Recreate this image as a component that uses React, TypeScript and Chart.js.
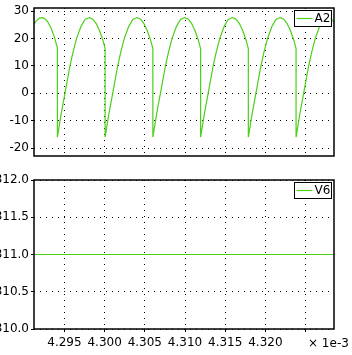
import React, { useEffect, useRef } from "react";
import { Chart, registerables } from "chart.js";

Chart.register(...registerables);

// time axis values are in units of 1e-3 s
const A2_TIME = [
  4.29121, 4.2915, 4.2919, 4.29218, 4.2925, 4.2929, 4.2933, 4.2937, 4.29412,
  4.29412, 4.29462, 4.29506, 4.29568, 4.29606, 4.2965, 4.29706, 4.29756, 4.29808, 4.2985, 4.29893, 4.29937, 4.29975, 4.30006,
  4.30006, 4.30056, 4.301, 4.30162, 4.302, 4.30244, 4.303, 4.3035, 4.30402, 4.30444, 4.30487, 4.30531, 4.30569, 4.306,
  4.306, 4.3065, 4.30694, 4.30756, 4.30794, 4.30838, 4.30894, 4.30944, 4.30996, 4.31038, 4.31081, 4.31125, 4.31163, 4.31194,
  4.31194, 4.31244, 4.31288, 4.3135, 4.31388, 4.31432, 4.31488, 4.31538, 4.3159, 4.31632, 4.31675, 4.31719, 4.31757, 4.31788,
  4.31788, 4.31838, 4.31882, 4.31944, 4.31982, 4.32026, 4.32082, 4.32132, 4.32184, 4.32226, 4.32269, 4.32313, 4.32351, 4.32382,
  4.32382, 4.32432, 4.32476, 4.32538, 4.32576, 4.3262, 4.32676, 4.32726, 4.32778, 4.3282, 4.32854,
];
const A2_VALUES = [
  25.3, 26.5, 27.5, 27.7, 27.4, 26.2, 24.1, 21.0, 16.6,
  -16, -7, 0, 10, 15, 20, 24.5, 27, 27.7, 27.2, 25.6, 22.9, 19.7, 16.4,
  -16, -7, 0, 10, 15, 20, 24.5, 27, 27.7, 27.2, 25.6, 22.9, 19.7, 16.4,
  -16, -7, 0, 10, 15, 20, 24.5, 27, 27.7, 27.2, 25.6, 22.9, 19.7, 16.4,
  -16, -7, 0, 10, 15, 20, 24.5, 27, 27.7, 27.2, 25.6, 22.9, 19.7, 16.4,
  -16, -7, 0, 10, 15, 20, 24.5, 27, 27.7, 27.2, 25.6, 22.9, 19.7, 16.4,
  -16, -7, 0, 10, 15, 20, 24.5, 27, 27.7, 27.2, 26.0,
];
const V6_TIME = [4.29121, 4.32854];
const V6_VALUES = [311.0, 311.0];

const X_MIN = 4.29121;
const X_MAX = 4.32854;
const X_TICKS = [4.295, 4.3, 4.305, 4.31, 4.315, 4.32, 4.325];
const X_TICK_LABELS = ["4.295", "4.300", "4.305", "4.310", "4.315", "4.320", ""];
const X_MULTIPLIER_TEXT = "× 1e-3";

const A2_MIN = -22.9;
const A2_MAX = 31.2;
const A2_TICKS = [-20, -10, 0, 10, 20, 30];
const A2_TICK_LABELS = ["-20", "-10", "0", "10", "20", "30"];

const V6_MIN = 310.0;
const V6_MAX = 312.0;
const V6_TICKS = [310.0, 310.5, 311.0, 311.5, 312.0];
const V6_TICK_LABELS = ["310.0", "310.5", "311.0", "311.5", "312.0"];

const FONT = "DejaVu Sans";
const LINE_COLOR = "#4ccf18";

const framePlugin = {
  id: "frameLegend",
  afterDraw(chart: any) {
    const { ctx, chartArea } = chart;
    const a = chartArea;
    ctx.save();
    ctx.strokeStyle = "#000";
    ctx.lineWidth = 1.5;
    ctx.strokeRect(a.left, a.top, a.right - a.left, a.bottom - a.top);
    // legend box
    const ds = chart.data.datasets[0];
    const bw = 37;
    const bh = 16;
    const bx = a.right - 3.5 - bw;
    const by = a.top + 2;
    ctx.fillStyle = "#fff";
    ctx.fillRect(bx, by, bw, bh);
    ctx.lineWidth = 1;
    ctx.strokeRect(Math.round(bx) + 0.5, Math.round(by) + 0.5, bw, bh);
    ctx.strokeStyle = ds.borderColor;
    ctx.lineWidth = 1.2;
    ctx.beginPath();
    ctx.moveTo(bx + 3, by + bh / 2 + 0.5);
    ctx.lineTo(bx + 19, by + bh / 2 + 0.5);
    ctx.stroke();
    ctx.fillStyle = "#000";
    ctx.font = `12px "${FONT}"`;
    ctx.textBaseline = "middle";
    ctx.textAlign = "left";
    ctx.fillText(ds.label, bx + 21, by + bh / 2 + 1);
    const mult = chart.options.plugins.frameLegend?.multiplier;
    if (mult) {
      ctx.font = `12px "${FONT}"`;
      ctx.textAlign = "left";
      ctx.textBaseline = "middle";
      ctx.fillText(mult, 308, a.bottom + 14.5);
    }
    ctx.restore();
  },
};

function makeChart(
  canvas: HTMLCanvasElement,
  label: string,
  times: number[],
  values: number[],
  yMin: number,
  yMax: number,
  yTicks: number[],
  yLabels: string[],
  showX: boolean,
  padding: any,
) {
  return new Chart(canvas, {
    type: "line",
    data: {
      datasets: [
        {
          label,
          data: times.map((t, i) => ({ x: t, y: values[i] })),
          borderColor: LINE_COLOR,
          borderWidth: 1.2,
          pointRadius: 0,
          tension: 0,
          fill: false,
        },
      ],
    },
    options: {
      animation: false,
      responsive: false,
      devicePixelRatio: 1,
      layout: { padding },
      plugins: {
        legend: { display: false },
        tooltip: { enabled: false },
        frameLegend: { multiplier: showX ? X_MULTIPLIER_TEXT : null },
      } as any,
      scales: {
        x: {
          type: "linear",
          min: X_MIN,
          max: X_MAX,
          afterBuildTicks: (s: any) => {
            s.ticks = X_TICKS.map((v) => ({ value: v }));
          },
          afterFit: (s: any) => {
            s.height = showX ? 26 : 0;
            s.paddingLeft = 0;
            s.paddingRight = 0;
          },
          border: { display: false, dash: [1, 5] },
          grid: {
            color: "#000",
            lineWidth: 1,
            drawTicks: showX,
            tickLength: 3,
            tickColor: "#000",
            tickBorderDash: [1, 0],
          },
          ticks: {
            display: showX,
            color: "#000",
            padding: 4,
            maxRotation: 0,
            autoSkip: false,
            font: { family: FONT, size: 12 },
            callback: (v: any) => {
              const i = X_TICKS.findIndex((t) => Math.abs(t - v) < 1e-9);
              return i >= 0 ? X_TICK_LABELS[i] : "";
            },
          },
        },
        y: {
          type: "linear",
          min: yMin,
          max: yMax,
          afterBuildTicks: (s: any) => {
            s.ticks = yTicks.map((v) => ({ value: v }));
          },
          afterFit: (s: any) => {
            s.width = 34;
            s.paddingTop = 0;
            s.paddingBottom = 0;
          },
          border: { display: false, dash: [1, 5] },
          grid: {
            color: "#000",
            lineWidth: 1,
            drawTicks: true,
            tickLength: 3,
            tickColor: "#000",
            tickBorderDash: [1, 0],
          },
          ticks: {
            color: "#000",
            padding: 2,
            autoSkip: false,
            font: { family: FONT, size: 12 },
            callback: (v: any) => {
              const i = yTicks.findIndex((t) => Math.abs(t - v) < 1e-9);
              return i >= 0 ? yLabels[i] : "";
            },
          },
        },
      },
    },
    plugins: [framePlugin],
  } as any);
}

export default function App() {
  const topRef = useRef<HTMLCanvasElement>(null);
  const botRef = useRef<HTMLCanvasElement>(null);

  useEffect(() => {
    const c1 = makeChart(
      topRef.current!, "A2", A2_TIME, A2_VALUES, A2_MIN, A2_MAX, A2_TICKS, A2_TICK_LABELS, false,
      { top: 8, right: 18, bottom: 14, left: 0 },
    );
    const c2 = makeChart(
      botRef.current!, "V6", V6_TIME, V6_VALUES, V6_MIN, V6_MAX, V6_TICKS, V6_TICK_LABELS, true,
      { top: 10, right: 18, bottom: 0, left: 0 },
    );
    return () => {
      c1.destroy();
      c2.destroy();
    };
  }, []);

  return (
    <div style={{ position: "fixed", left: 0, top: 0, width: 352, height: 355, background: "#fff" }}>
      <canvas ref={topRef} width={352} height={170} style={{ position: "absolute", left: 0, top: 0, display: "block" }} />
      <canvas ref={botRef} width={352} height={185} style={{ position: "absolute", left: 0, top: 170, display: "block" }} />
    </div>
  );
}
